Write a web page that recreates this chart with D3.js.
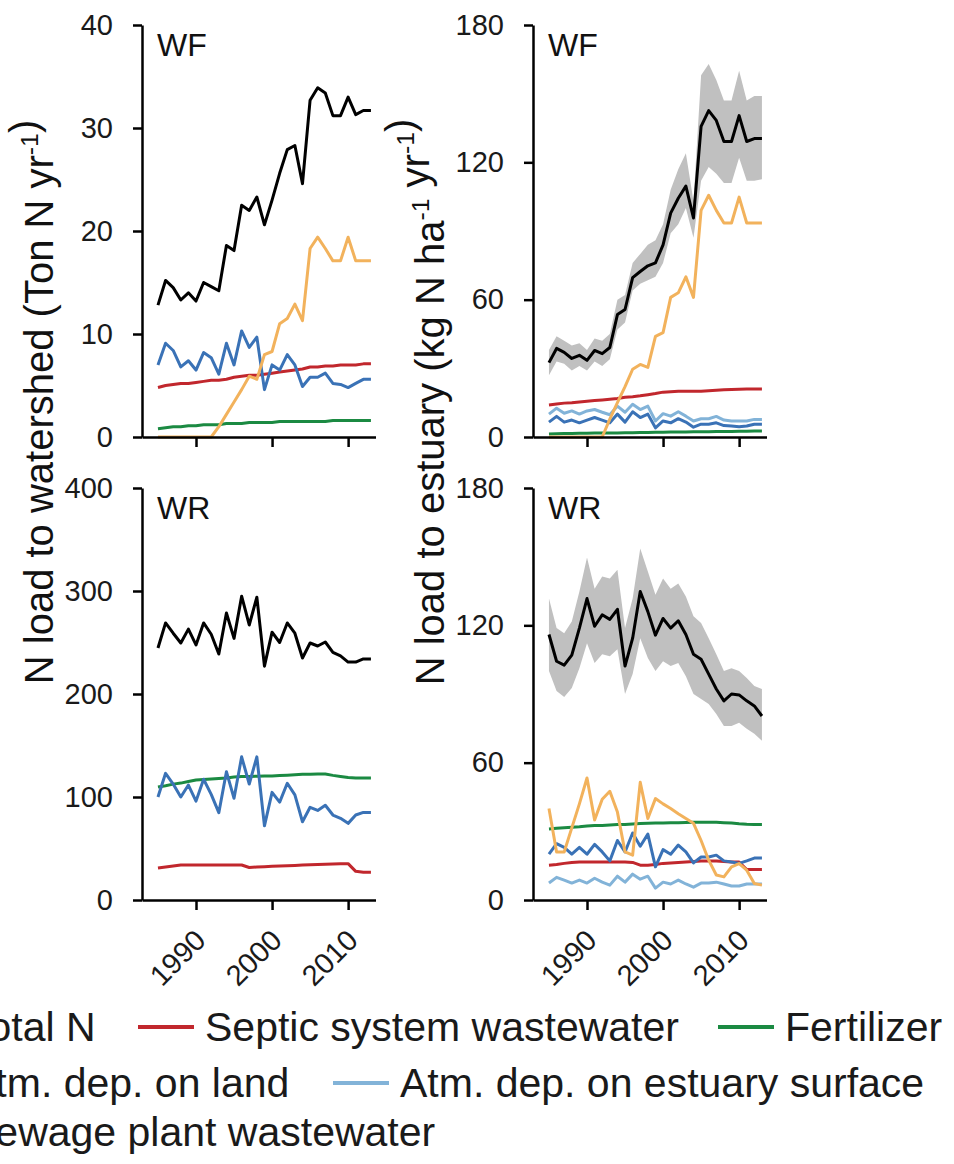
<!DOCTYPE html>
<html>
<head>
<meta charset="utf-8">
<script src="https://cdn.jsdelivr.net/npm/d3@7"></script>
<style>
html,body{margin:0;padding:0;background:#fff;}
svg{display:block;}
text{font-family:"Liberation Sans", Arial, sans-serif;}
</style>
</head>
<body>
<svg id="chart" width="954" height="1164"></svg>
<script>
// ---------------- DATA ----------------
const years = [1985,1986,1987,1988,1989,1990,1991,1992,1993,1994,1995,1996,1997,1998,1999,2000,2001,2002,2003,2004,2005,2006,2007,2008,2009,2010,2011,2012,2013];
const xTickValues = [1990, 2000, 2010];

// WF - N load to watershed (Ton N / yr)
const wfWsTicks = [0, 10, 20, 30, 40];
const wfWsTotal  = [12.8,15.2,14.5,13.3,14.0,13.2,15.0,14.6,14.2,18.6,18.1,22.5,22.0,23.3,20.6,23.0,25.6,27.9,28.3,24.6,32.7,33.9,33.4,31.2,31.2,33.0,31.3,31.7,31.7];
const wfWsSeptic = [4.8,5.0,5.1,5.2,5.2,5.3,5.4,5.5,5.5,5.6,5.8,5.9,6.0,6.0,6.1,6.2,6.3,6.4,6.5,6.6,6.8,6.8,6.9,6.9,7.0,7.0,7.0,7.1,7.1];
const wfWsFert   = [0.8,0.9,1.0,1.0,1.1,1.1,1.2,1.2,1.2,1.3,1.3,1.3,1.4,1.4,1.4,1.4,1.5,1.5,1.5,1.5,1.5,1.5,1.5,1.6,1.6,1.6,1.6,1.6,1.6];
const wfWsAtmLand= [7.0,9.1,8.4,6.8,7.4,6.5,8.2,7.7,6.1,9.1,7.0,10.3,8.7,9.7,4.6,7.0,6.5,8.0,7.0,4.9,5.8,5.8,6.2,5.2,5.1,4.8,5.2,5.6,5.6];
const wfWsSewage = [0,0,0,0,0,0,0,0,1.0,2.2,3.4,4.6,5.9,5.6,8.0,8.3,11.0,11.5,12.9,11.3,18.3,19.4,18.3,17.1,17.1,19.4,17.1,17.1,17.1];

// WF - N load to estuary (kg N / ha / yr)
const wfEsTicks = [0, 60, 120, 180];
const wfEsTotal  = [32.5,38.7,37.0,34.3,35.7,33.5,37.8,36.4,39.1,53.5,55.7,69.6,72.3,74.8,76.1,83.9,97.8,104.3,109.6,95.7,135.7,142.6,138.3,129.1,129.1,140.4,129.1,130.4,130.4];
const wfEsLower  = [27,33,32,29,31,29,33,31,34,47,50,64,67,68.5,70,76,89,93,100,87,112,118,115,111,111,122,112,112,112.6];
const wfEsUpper  = [38,44,42,40,41,38,43,42,45,60,62,76,80,84,86,93,108,117,124,103,158,163,156,147,147,160,147,149,149];
const wfEsSeptic = [14.0,14.4,14.8,15.0,15.3,15.6,15.9,16.2,16.5,16.8,17.4,17.6,18.0,18.5,19.0,19.6,19.8,20.0,20.0,20.0,20.0,20.2,20.4,20.6,20.8,20.9,21.0,21.0,21.0];
const wfEsFert   = [1.3,1.4,1.5,1.5,1.6,1.6,1.7,1.7,1.8,1.8,1.9,1.9,2.0,2.0,2.1,2.1,2.2,2.2,2.2,2.3,2.3,2.3,2.4,2.4,2.4,2.5,2.5,2.6,2.6];
const wfEsAtmLand= [6.5,9.0,6.5,7.4,6.2,7.4,8.5,7.4,6.2,10.0,6.5,11.0,8.5,10.0,4.0,7.0,6.2,8.0,6.5,4.3,5.6,5.6,6.2,5.0,4.8,4.5,4.8,5.6,5.6];
const wfEsAtmEst = [10.0,12.6,10.4,11.4,10.0,11.4,12.0,10.8,9.7,13.5,10.8,14.3,12.0,13.5,7.0,10.2,9.1,11.0,9.1,7.0,8.0,8.0,9.0,7.4,7.0,7.0,7.0,7.7,7.7];
const wfEsSewage = [0,0,0,0,0,0,0,0,7.8,15.0,22.0,29.6,31.7,30.4,44.0,45.6,61.0,63.0,70.0,61.0,99.0,105.6,99.0,93.5,93.5,104.8,93.5,93.5,93.5];

// WR - N load to watershed (Ton N / yr)
const wrWsTicks = [0, 100, 200, 300, 400];
const wrWsTotal  = [244.7,269,259,249.5,263,247.6,269,258,238.8,278.6,254,295,267,294,227,260,250,269,259,235,249.5,246.6,250.5,240.5,237,231,231,234,234];
const wrWsSeptic = [31,32,33,34,34,34,34,34,34,34,34,34,31.6,32,32.3,32.7,33,33.3,33.6,34,34.3,34.5,34.8,35,35.2,35.3,27.8,27,27];
const wrWsFert   = [109.7,111,112.5,113.5,115,116.5,117,117.5,118,118.5,119.4,119.8,120,120.2,120.4,120.4,120.8,121.2,121.6,122,122,122.3,122.3,121,120,119,118.5,118.4,118.4];
const wrWsAtmLand= [100,123,112.6,100,111.6,96,117.2,102.6,84.8,124.6,98.7,139,112.6,139,72,104.5,95,113.3,102,76,90,87,92,82.5,79.3,74.4,82.5,85,85];

// WR - N load to estuary (kg N / ha / yr)
const wrEsTicks = [0, 60, 120, 180];
const wrEsTotal  = [116,104.3,102.6,107,118.8,131.7,119.6,124.6,122.6,127,102.2,114.4,134.8,126,115.7,123,118.8,122,116,107.4,105.2,98.7,92.2,87,90,89.6,87,84.8,80.4];
const wrEsLower  = [100,91.3,88.7,92.6,101.3,112.2,103.5,107.4,106.5,109.6,90,98.7,114.4,105.7,100,104.3,102.2,103.5,97.8,90,87.8,85.6,81.3,76,76,77.4,74.8,72.6,69.6];
const wrEsUpper  = [131.7,118.8,116.5,121.7,134.8,149.6,136,141.3,140.5,144.3,118.8,131.7,153.6,143.5,133.4,140.5,136,138.3,132.6,124,121,114.4,107.4,100,101.3,100,97,93.5,92.2];
const wrEsSeptic = [15.2,15.5,16,16.4,16.6,16.6,16.6,16.6,16.6,16.6,16.6,16.4,15.2,15.2,15.5,16,16.2,16.4,16.6,16.8,17,17,17,16.8,16.6,16.6,13.3,13.3,13.3];
const wrEsFert   = [31,31.3,31.6,31.8,32,32.3,32.5,32.6,32.8,33,33,33.2,33.4,33.5,33.6,33.6,33.7,33.8,33.9,34,34,34,34,33.8,33.6,33.3,33.1,33,33];
const wrEsAtmLand= [20,24.6,23,20,23,20,24.3,21,17.1,26,21,29.3,23.5,28.8,14.5,22,20,24,21,16.2,18.8,18.8,19.6,17.1,16.6,16,17.1,18.3,18.3];
const wrEsAtmEst = [7.4,9.9,8.7,7.4,8.7,7.4,9.5,7.8,6.5,10.4,7.8,11.3,9.1,10.4,5.2,7.8,7,8.7,7,5.6,7.4,7.4,7.8,7,6.1,6.1,7,7,7];
const wrEsSewage = [40,21,21,31.5,42,53.3,35,44,47.5,38.4,21,19.6,51.4,35.6,44.3,42,40,37.7,35.6,33.5,26,17.4,10.9,10.1,14.5,15.9,13,7.2,6.5];

const seriesNames = ["Total N","Septic system wastewater","Fertilizer","Atm. dep. on land","Atm. dep. on estuary surface","Sewage plant wastewater"];
const panelLabels = ["WF","WF","WR","WR"];
const yTitles = ["N load to watershed (Ton N yr", "N load to estuary (kg N ha"];

// ---------------- STYLE ----------------
const colors = {
  total: "#000000",
  septic: "#c1272d",
  fert: "#1b8a42",
  atmLand: "#3a72b6",
  atmEst: "#82b3d8",
  sewage: "#f2b25c",
  band: "#c0c0c0"
};
const FONT_TICK = 29, FONT_PANEL = 32, FONT_TITLE = 40, FONT_LEGEND = 41;

const svg = d3.select("#chart");

const panels = [
  {x0:142, x1:375.5, y0:437, y1:25, ymax:40, ticks:wfWsTicks, label:panelLabels[0], showX:false,
   series:[["septic",wfWsSeptic],["fert",wfWsFert],["atmLand",wfWsAtmLand],["sewage",wfWsSewage],["total",wfWsTotal]]},
  {x0:533, x1:766.5, y0:437, y1:25, ymax:180, ticks:wfEsTicks, label:panelLabels[1], showX:false, band:[wfEsLower,wfEsUpper],
   series:[["septic",wfEsSeptic],["fert",wfEsFert],["atmLand",wfEsAtmLand],["atmEst",wfEsAtmEst],["sewage",wfEsSewage],["total",wfEsTotal]]},
  {x0:142, x1:375.5, y0:900, y1:488, ymax:400, ticks:wrWsTicks, label:panelLabels[2], showX:true,
   series:[["septic",wrWsSeptic],["fert",wrWsFert],["atmLand",wrWsAtmLand],["total",wrWsTotal]]},
  {x0:533, x1:766.5, y0:900, y1:488, ymax:180, ticks:wrEsTicks, label:panelLabels[3], showX:true, band:[wrEsLower,wrEsUpper],
   series:[["septic",wrEsSeptic],["fert",wrEsFert],["atmLand",wrEsAtmLand],["atmEst",wrEsAtmEst],["sewage",wrEsSewage],["total",wrEsTotal]]}
];

panels.forEach(p => {
  const x = d3.scaleLinear().domain([1982.9, 2013.6]).range([p.x0, p.x1]);
  const y = d3.scaleLinear().domain([0, p.ymax]).range([p.y0, p.y1]);
  const g = svg.append("g");

  if (p.band) {
    const area = d3.area()
      .x((d,i) => x(years[i]))
      .y0((d,i) => y(p.band[0][i]))
      .y1((d,i) => y(p.band[1][i]));
    g.append("path").datum(years).attr("d", area).attr("fill", colors.band).attr("stroke","none");
  }

  p.series.forEach(([key, vals]) => {
    const line = d3.line().x((d,i) => x(years[i])).y(d => y(d));
    g.append("path").datum(vals).attr("d", line)
      .attr("fill","none").attr("stroke", colors[key])
      .attr("stroke-width", 3).attr("stroke-linejoin","round").attr("stroke-linecap","butt");
  });

  // y axis
  const yAxis = d3.axisLeft(y).tickValues(p.ticks).tickSize(9).tickSizeOuter(0).tickPadding(20).tickFormat(d3.format("d"));
  const ga = svg.append("g").attr("transform", `translate(${p.x0},0)`).call(yAxis);
  ga.select(".domain").attr("stroke","#000").attr("stroke-width",2.5);
  ga.selectAll(".tick line").attr("stroke","#000").attr("stroke-width",2.5);
  ga.selectAll(".tick text").attr("font-size",FONT_TICK).attr("fill","#1a1a1a")
    .attr("font-family","Liberation Sans, Arial, sans-serif");

  // x axis
  const xAxis = d3.axisBottom(x).tickValues(xTickValues).tickSize(10).tickSizeOuter(0)
    .tickFormat(p.showX ? d3.format("d") : () => "");
  const gx = svg.append("g").attr("transform", `translate(0,${p.y0})`).call(xAxis);
  gx.select(".domain").attr("stroke","#000").attr("stroke-width",2.5);
  gx.selectAll(".tick line").attr("stroke","#000").attr("stroke-width",2.5);
  gx.selectAll(".tick text")
    .attr("font-size",FONT_TICK).attr("fill","#1a1a1a")
    .attr("font-family","Liberation Sans, Arial, sans-serif")
    .attr("text-anchor","end").attr("y",0).attr("dy",0)
    .attr("transform","translate(11,42) rotate(-45)");

  // panel label
  svg.append("text").attr("x", p.x0 + 15).attr("y", p.y1 + 31)
    .attr("font-size", FONT_PANEL).attr("fill","#111").text(p.label);
});

// y-axis titles
function yTitle(xb, yc, parts) {
  const t = svg.append("text").attr("transform", `translate(${xb},${yc}) rotate(-90)`)
    .attr("text-anchor","middle").attr("font-size", FONT_TITLE).attr("fill","#111");
  parts.forEach(([s, sup]) => {
    if (sup) {
      t.append("tspan").attr("font-size", FONT_TITLE*0.62).attr("dy", -15).text(s);
      t.append("tspan").attr("dy", 15).text("");
    } else {
      t.append("tspan").text(s);
    }
  });
}
yTitle(53, 402, [[yTitles[0]], ["-1", true], [")"]]);
yTitle(444, 402, [[yTitles[1]], ["-1", true], [" yr"], ["-1", true], [")"]]);

// legend
const legendItems = [
  {key:"total",   text:seriesNames[0], tx:-32, row:0},
  {key:"septic",  text:seriesNames[1], tx:205, row:0},
  {key:"fert",    text:seriesNames[2], tx:785, row:0},
  {key:"atmLand", text:seriesNames[3], tx:-32, row:1},
  {key:"atmEst",  text:seriesNames[4], tx:400, row:1},
  {key:"sewage",  text:seriesNames[5], tx:-32, row:2}
];
const rowBase = [1041, 1097, 1146];
legendItems.forEach(it => {
  const yb = rowBase[it.row];
  svg.append("line").attr("x1", it.tx - 67).attr("x2", it.tx - 11)
    .attr("y1", yb - 14).attr("y2", yb - 14)
    .attr("stroke", colors[it.key]).attr("stroke-width", 4);
  svg.append("text").attr("x", it.tx).attr("y", yb)
    .attr("font-size", FONT_LEGEND).attr("fill","#1a1a1a").text(it.text);
});
</script>
</body>
</html>
